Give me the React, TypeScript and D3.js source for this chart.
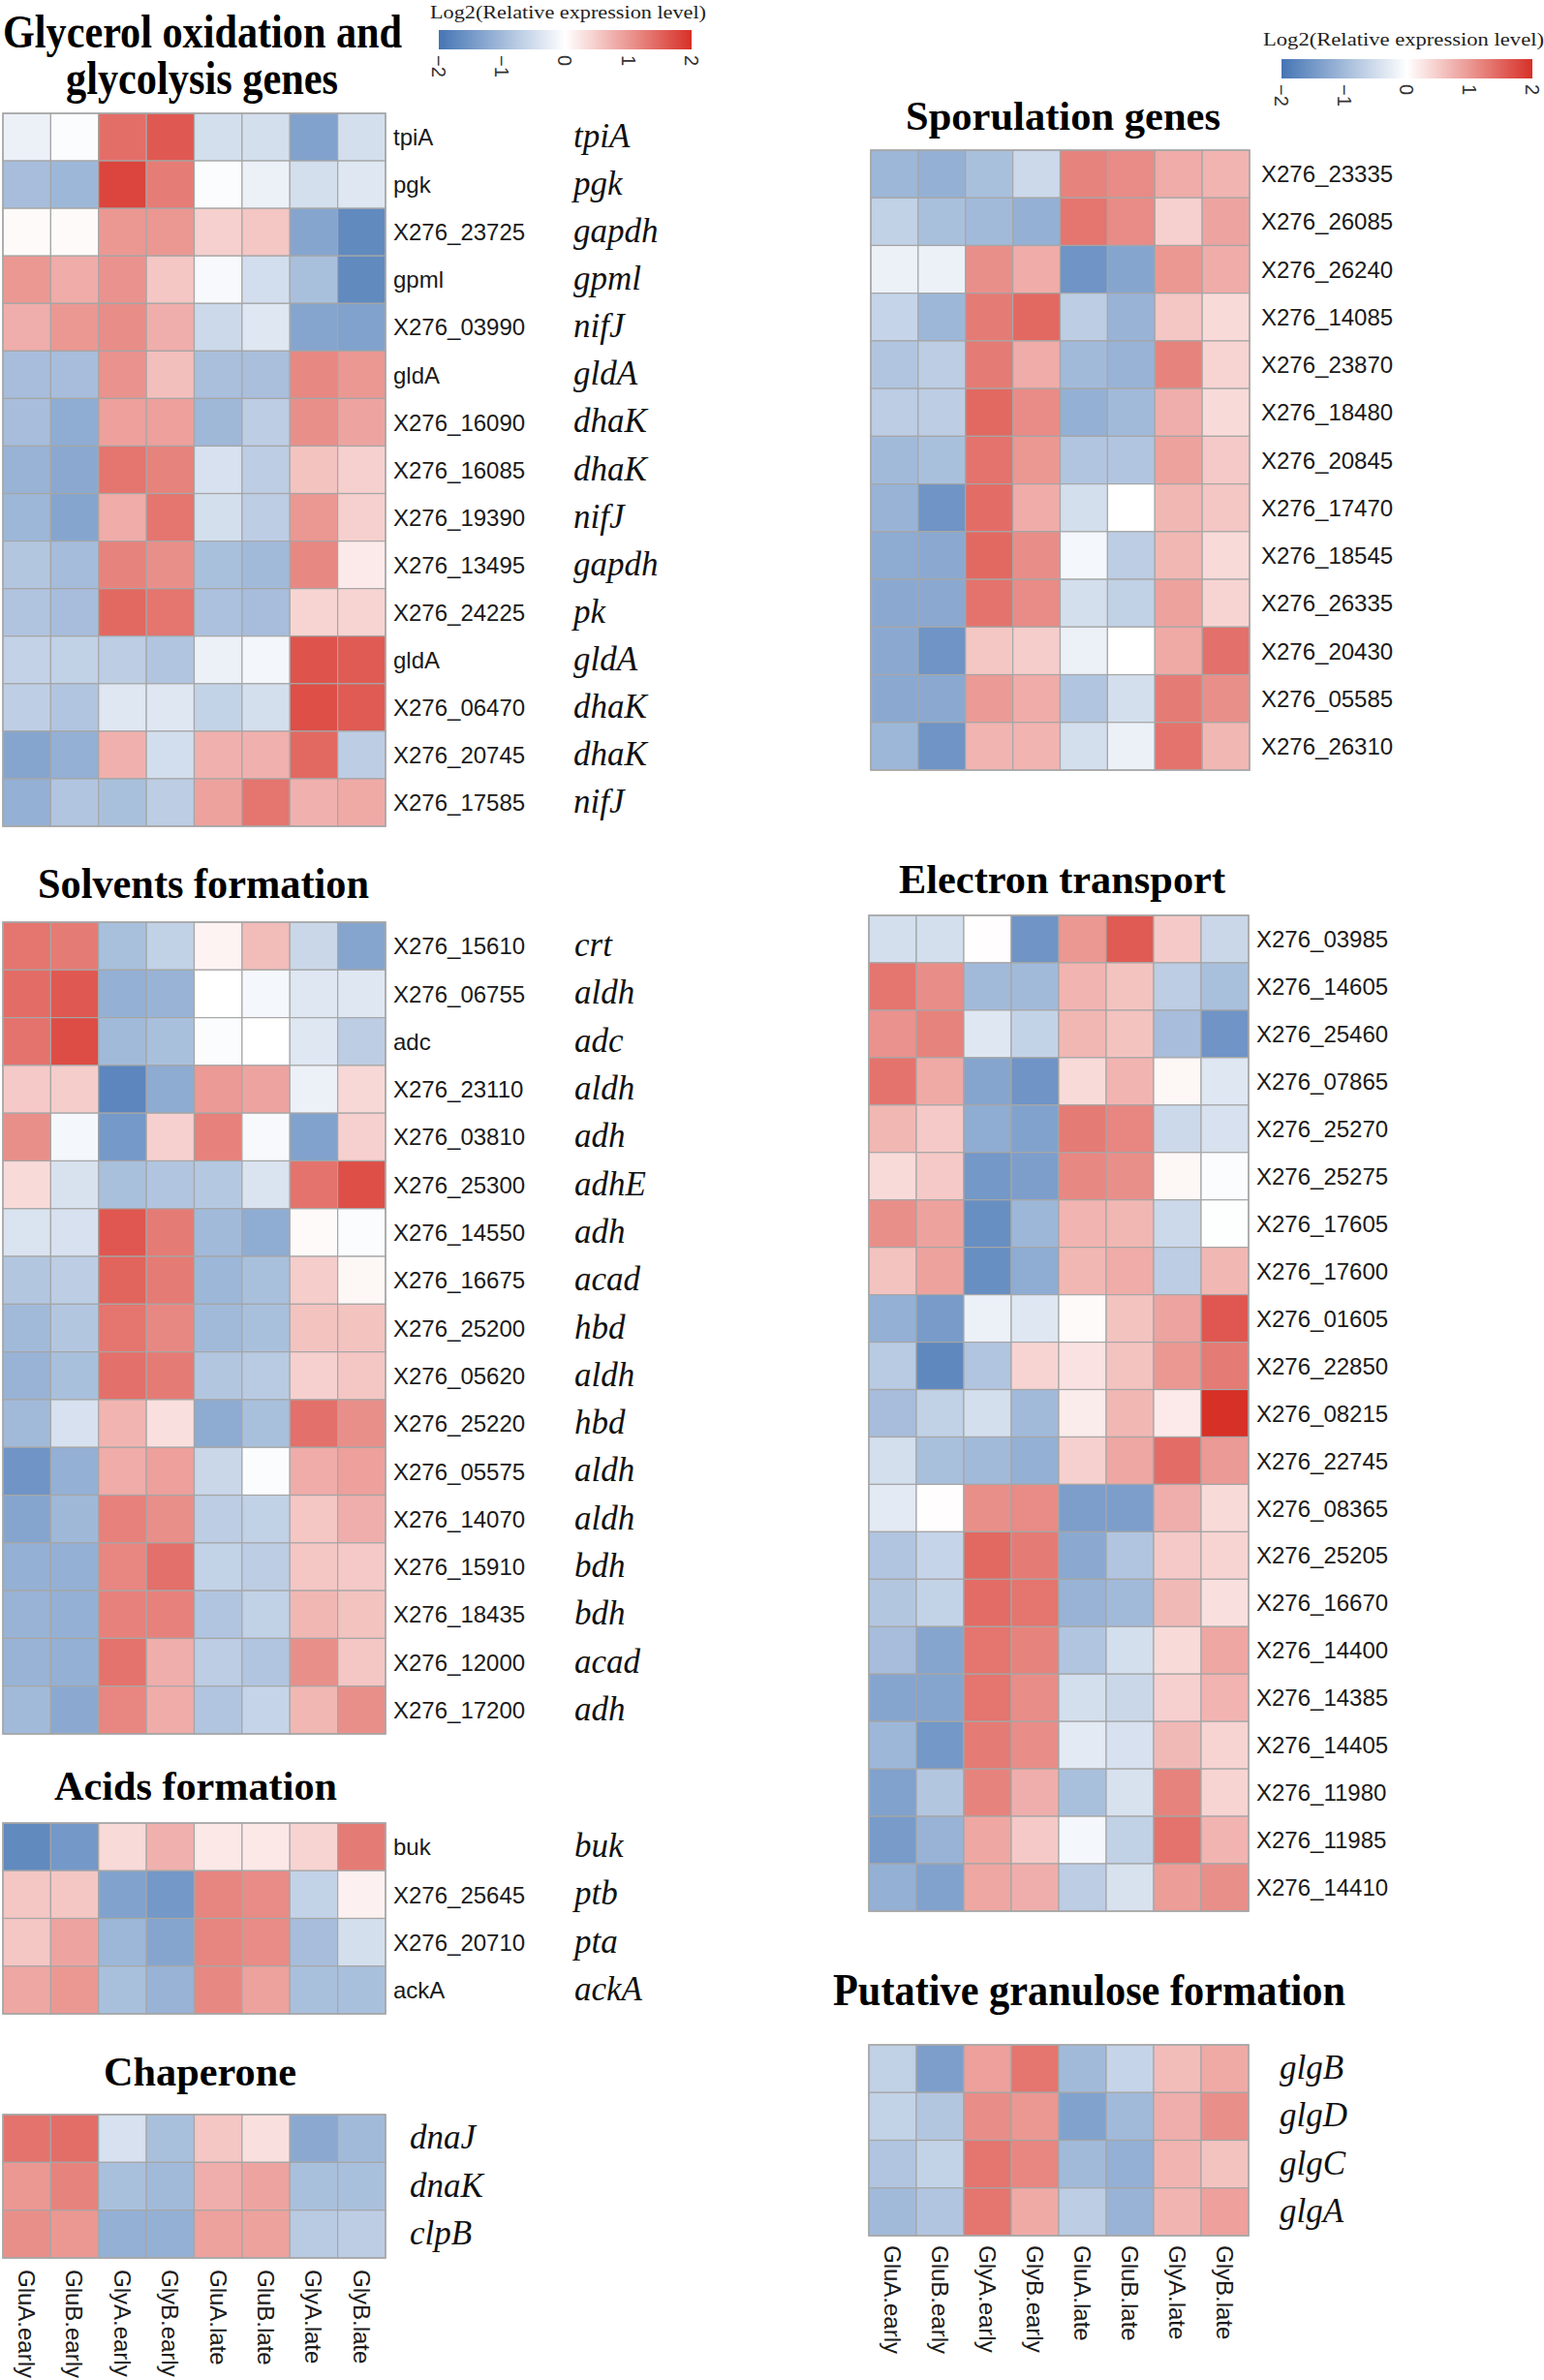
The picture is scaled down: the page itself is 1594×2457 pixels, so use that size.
import React from "react";
import * as d3 from "d3";

const samples = ["GluA.early","GluB.early","GlyA.early","GlyB.early","GluA.late","GluB.late","GlyA.late","GlyB.late"];
const legendTicks = [-2, -1, 0, 1, 2];

const glycerolIds = ["tpiA","pgk","X276_23725","gpml","X276_03990","gldA","X276_16090","X276_16085","X276_19390","X276_13495","X276_24225","gldA","X276_06470","X276_20745","X276_17585"];
const glycerolGenes = ["tpiA","pgk","gapdh","gpml","nifJ","gldA","dhaK","dhaK","nifJ","gapdh","pk","gldA","dhaK","dhaK","nifJ"];
const glycerolValues = [
  [-0.2,-0.05,1.4,1.6,-0.47,-0.47,-1.35,-0.47],
  [-0.95,-1.05,1.8,1.27,-0.05,-0.2,-0.47,-0.35],
  [0.05,0.05,1.0,1.0,0.45,0.55,-1.3,-1.7],
  [1.0,0.8,1.05,0.55,-0.08,-0.48,-0.92,-1.7],
  [0.78,1.0,1.1,0.78,-0.55,-0.35,-1.3,-1.35],
  [-0.95,-0.95,1.05,0.62,-0.93,-0.93,1.15,1.0],
  [-0.95,-1.2,0.92,0.92,-1.03,-0.72,1.08,0.88],
  [-1.1,-1.25,1.33,1.2,-0.43,-0.72,0.58,0.45],
  [-1.05,-1.3,0.8,1.33,-0.47,-0.72,1.0,0.45],
  [-0.82,-0.97,1.2,1.08,-0.92,-1.0,1.15,0.2],
  [-0.85,-0.95,1.45,1.33,-0.9,-0.95,0.42,0.42],
  [-0.65,-0.67,-0.72,-0.84,-0.2,-0.13,1.65,1.58],
  [-0.7,-0.84,-0.35,-0.35,-0.64,-0.47,1.7,1.58],
  [-1.3,-1.15,0.75,-0.48,0.75,0.75,1.45,-0.72],
  [-1.15,-0.84,-0.92,-0.72,0.9,1.33,0.75,0.82],
];

const solventIds = ["X276_15610","X276_06755","adc","X276_23110","X276_03810","X276_25300","X276_14550","X276_16675","X276_25200","X276_05620","X276_25220","X276_05575","X276_14070","X276_15910","X276_18435","X276_12000","X276_17200"];
const solventGenes = ["crt","aldh","adc","aldh","adh","adhE","adh","acad","hbd","aldh","hbd","aldh","aldh","bdh","bdh","acad","adh"];
const solventValues = [
  [1.33,1.28,-0.92,-0.67,0.12,0.65,-0.58,-1.3],
  [1.42,1.6,-1.15,-1.1,0.0,-0.12,-0.35,-0.35],
  [1.35,1.72,-1.0,-0.92,-0.05,0.0,-0.35,-0.72],
  [0.52,0.48,-1.75,-1.22,0.98,0.88,-0.2,0.38],
  [1.08,-0.12,-1.48,0.45,1.22,-0.08,-1.35,0.45],
  [0.35,-0.42,-0.92,-0.84,-0.8,-0.4,1.35,1.7],
  [-0.4,-0.43,1.62,1.28,-1.0,-1.2,0.05,-0.05],
  [-0.82,-0.72,1.5,1.28,-1.05,-0.92,0.48,0.08],
  [-1.0,-0.82,1.33,1.15,-1.0,-0.92,0.58,0.58],
  [-1.1,-0.92,1.38,1.28,-0.82,-0.76,0.45,0.55],
  [-1.0,-0.43,0.72,0.3,-1.22,-0.92,1.38,1.08],
  [-1.55,-1.15,0.8,0.92,-0.58,-0.05,0.8,0.92],
  [-1.3,-1.03,1.22,1.08,-0.72,-0.67,0.55,0.78],
  [-1.15,-1.15,1.17,1.38,-0.64,-0.72,0.55,0.52],
  [-1.1,-1.15,1.22,1.22,-0.84,-0.67,0.7,0.58],
  [-1.1,-1.15,1.35,0.78,-0.72,-0.84,1.08,0.55],
  [-1.0,-1.25,1.17,0.8,-0.84,-0.62,0.7,1.08],
];

const acidIds = ["buk","X276_25645","X276_20710","ackA"];
const acidGenes = ["buk","ptb","pta","ackA"];
const acidValues = [
  [-1.7,-1.5,0.36,0.75,0.22,0.22,0.42,1.28],
  [0.55,0.55,-1.35,-1.5,1.18,1.12,-0.64,0.14],
  [0.55,0.88,-1.05,-1.3,1.18,1.12,-0.95,-0.47],
  [0.85,1.0,-0.92,-1.1,1.15,0.9,-0.92,-0.92],
];

const chaperoneGenes = ["dnaJ","dnaK","clpB"];
const chaperoneValues = [
  [1.35,1.4,-0.43,-0.92,0.55,0.3,-1.25,-1.0],
  [1.0,1.2,-0.92,-1.0,0.78,0.88,-0.92,-0.92],
  [1.08,1.0,-1.15,-1.15,0.9,0.9,-0.76,-0.72],
];

const sporulationIds = ["X276_23335","X276_26085","X276_26240","X276_14085","X276_23870","X276_18480","X276_20845","X276_17470","X276_18545","X276_26335","X276_20430","X276_05585","X276_26310"];
const sporulationValues = [
  [-1.05,-1.15,-0.92,-0.55,1.2,1.12,0.8,0.72],
  [-0.67,-0.92,-1.0,-1.15,1.33,1.12,0.45,0.88],
  [-0.2,-0.2,1.08,0.8,-1.55,-1.3,1.0,0.8],
  [-0.62,-1.05,1.28,1.45,-0.72,-1.1,0.55,0.35],
  [-0.84,-0.72,1.28,0.8,-1.0,-1.1,1.2,0.42],
  [-0.72,-0.72,1.45,1.12,-1.15,-1.0,0.78,0.35],
  [-1.0,-0.92,1.35,1.0,-0.84,-0.84,0.9,0.52],
  [-1.1,-1.55,1.42,0.8,-0.47,0.0,0.7,0.55],
  [-1.22,-1.25,1.45,1.1,-0.12,-0.72,0.7,0.35],
  [-1.25,-1.25,1.35,1.12,-0.47,-0.67,0.9,0.42],
  [-1.25,-1.55,0.55,0.48,-0.2,0.0,0.82,1.38],
  [-1.25,-1.25,0.98,0.8,-0.84,-0.47,1.28,1.08],
  [-1.05,-1.55,0.72,0.72,-0.47,-0.2,1.35,0.7],
];

const electronIds = ["X276_03985","X276_14605","X276_25460","X276_07865","X276_25270","X276_25275","X276_17605","X276_17600","X276_01605","X276_22850","X276_08215","X276_22745","X276_08365","X276_25205","X276_16670","X276_14400","X276_14385","X276_14405","X276_11980","X276_11985","X276_14410"];
const electronValues = [
  [-0.47,-0.47,0.02,-1.55,1.0,1.58,0.52,-0.58],
  [1.33,1.1,-1.0,-1.0,0.72,0.58,-0.72,-0.92],
  [1.05,1.2,-0.35,-0.64,0.7,0.58,-0.95,-1.55],
  [1.35,0.82,-1.3,-1.55,0.35,0.72,0.08,-0.35],
  [0.7,0.52,-1.2,-1.35,1.28,1.17,-0.55,-0.43],
  [0.35,0.52,-1.5,-1.4,1.15,1.08,0.08,-0.05],
  [1.08,0.9,-1.62,-1.05,0.72,0.7,-0.55,-0.02],
  [0.58,0.9,-1.62,-1.2,0.7,0.8,-0.72,0.7],
  [-1.15,-1.45,-0.2,-0.35,0.05,0.58,0.88,1.62],
  [-0.76,-1.72,-0.84,0.42,0.28,0.58,1.0,1.28],
  [-0.95,-0.67,-0.47,-1.0,0.18,0.7,0.2,2.0],
  [-0.47,-0.92,-1.0,-1.15,0.45,0.85,1.42,0.98],
  [-0.3,0.02,1.08,1.12,-1.4,-1.4,0.78,0.36],
  [-0.84,-0.62,1.45,1.28,-1.25,-0.84,0.52,0.42],
  [-0.82,-0.64,1.42,1.33,-1.1,-1.0,0.68,0.3],
  [-0.95,-1.3,1.33,1.2,-0.84,-0.47,0.35,0.85],
  [-1.3,-1.3,1.33,1.1,-0.47,-0.58,0.45,0.72],
  [-1.05,-1.5,1.28,1.1,-0.3,-0.43,0.68,0.42],
  [-1.35,-0.82,1.2,0.78,-0.92,-0.42,1.2,0.42],
  [-1.45,-1.1,0.85,0.52,-0.12,-0.67,1.35,0.72],
  [-1.15,-1.35,0.85,0.78,-0.72,-0.42,0.95,1.08],
];

const granuloseGenes = ["glgB","glgD","glgC","glgA"];
const granuloseValues = [
  [-0.67,-1.4,0.92,1.33,-1.0,-0.62,0.65,0.82],
  [-0.64,-0.82,1.1,1.0,-1.35,-1.0,0.78,1.08],
  [-0.84,-0.64,1.33,1.17,-1.0,-1.15,0.72,0.58],
  [-1.0,-0.84,1.33,0.82,-0.72,-1.1,0.72,0.92],
];

const color = d3
  .scaleLinear<string>()
  .domain([-2, 0, 2])
  .range(["#4575b4", "#ffffff", "#d73027"])
  .interpolate(d3.interpolateRgb)
  .clamp(true);

const SANS = "'Liberation Sans', Arial, sans-serif";
const SERIF = "'Liberation Serif', 'Times New Roman', serif";

type HeatProps = {
  x: number; y: number; w: number; h: number;
  values: number[][];
  ids?: string[]; idX?: number;
  genes?: string[]; geneX?: number;
  colLabelY?: number;
};

function Heatmap(p: HeatProps) {
  const rows = d3.range(p.values.length);
  const xs = d3.scaleBand<number>().domain(d3.range(samples.length)).range([p.x, p.x + p.w]);
  const ys = d3.scaleBand<number>().domain(rows).range([p.y, p.y + p.h]);
  return (
    <g>
      {p.values.map((row, i) =>
        row.map((v, j) => (
          <rect key={`${i}-${j}`} x={xs(j)} y={ys(i)} width={xs.bandwidth()} height={ys.bandwidth()}
            fill={color(v)} stroke="#a6a6a6" strokeWidth={1.2} />
        ))
      )}
      <rect x={p.x} y={p.y} width={p.w} height={p.h} fill="none" stroke="#a6a6a6" strokeWidth={1.5} />
      {p.ids && p.ids.map((t, i) => (
        <text key={"id" + i} x={p.idX} y={(ys(i) as number) + ys.bandwidth() / 2} dy="0.36em"
          fontFamily={SANS} fontSize={24} fill="#1a1a1a">{t}</text>
      ))}
      {p.genes && p.genes.map((t, i) => (
        <text key={"g" + i} x={p.geneX} y={(ys(i) as number) + ys.bandwidth() / 2} dy="0.3em"
          fontFamily={SERIF} fontStyle="italic" fontSize={35} fill="#111">{t}</text>
      ))}
      {p.colLabelY !== undefined && samples.map((s, j) => (
        <text key={"c" + j} transform={`translate(${(xs(j) as number) + xs.bandwidth() / 2},${p.colLabelY}) rotate(90)`}
          dy="0.36em" fontFamily={SANS} fontSize={24} fill="#1a1a1a">{s}</text>
      ))}
    </g>
  );
}

function Legend({ x, y, w, h, titleX, titleY, titleLen, id }: { x: number; y: number; w: number; h: number; titleX: number; titleY: number; titleLen: number; id: string }) {
  const s = d3.scaleLinear().domain([-2, 2]).range([x, x + w]);
  const stops = d3.range(0, 1.0001, 0.05);
  return (
    <g>
      <defs>
        <linearGradient id={id} x1="0" x2="1" y1="0" y2="0">
          {stops.map((t, i) => (
            <stop key={i} offset={t} stopColor={color(-2 + 4 * t)} />
          ))}
        </linearGradient>
      </defs>
      <text x={titleX} y={titleY} fontFamily={SERIF} fontSize={19} textLength={titleLen} lengthAdjust="spacingAndGlyphs" fill="#222">
        Log2(Relative  expression level)
      </text>
      <rect x={x} y={y} width={w} height={h} fill={`url(#${id})`} />
      {legendTicks.map((t) => (
        <text key={t} transform={`translate(${s(t)},${y + h + 6}) rotate(90)`} dy="0.36em"
          fontFamily={SANS} fontSize={20} fill="#333">{t < 0 ? `\u2212${-t}` : `${t}`}</text>
      ))}
    </g>
  );
}

function Title({ x, y, len, text, size = 44 }: { x: number; y: number; len: number; text: string; size?: number }) {
  return (
    <text x={x} y={y} fontFamily={SERIF} fontWeight="bold" fontSize={size} textLength={len}
      lengthAdjust="spacingAndGlyphs" fill="#000">{text}</text>
  );
}

export default function App() {
  return (
    <svg width={1594} height={2457} style={{ position: "absolute", left: 0, top: 0, display: "block", background: "#fff" }}>
      <rect width={1594} height={2457} fill="#fff" />
      <Title x={3} y={49} len={412} text="Glycerol oxidation and" size={48} />
      <Title x={68} y={97} len={281} text="glycolysis genes" size={48} />
      <Legend id="lg1" x={453} y={31} w={261} h={20} titleX={444} titleY={19} titleLen={285} />
      <Heatmap x={3} y={117} w={395} h={736} values={glycerolValues} ids={glycerolIds} idX={406} genes={glycerolGenes} geneX={592} />

      <Title x={39} y={927} len={342} text="Solvents formation" size={45} />
      <Heatmap x={3} y={952} w={395} h={838} values={solventValues} ids={solventIds} idX={406} genes={solventGenes} geneX={593} />

      <Title x={56} y={1858} len={292} text="Acids formation" size={43} />
      <Heatmap x={3} y={1882} w={395} h={197} values={acidValues} ids={acidIds} idX={406} genes={acidGenes} geneX={593} />

      <Title x={107} y={2153} len={199} text="Chaperone" size={43} />
      <Heatmap x={3} y={2183} w={395} h={148} values={chaperoneValues} genes={chaperoneGenes} geneX={423} colLabelY={2343} />

      <Legend id="lg2" x={1323} y={61} w={259} h={20} titleX={1304} titleY={47} titleLen={290} />
      <Title x={935} y={134} len={325} text="Sporulation genes" size={43} />
      <Heatmap x={899} y={155} w={391} h={640} values={sporulationValues} ids={sporulationIds} idX={1302} />

      <Title x={928} y={922} len={337} text="Electron transport" size={43} />
      <Heatmap x={897} y={945} w={392} h={1028} values={electronValues} ids={electronIds} idX={1297} />

      <Title x={860} y={2070} len={529} text="Putative granulose formation" size={46} />
      <Heatmap x={897} y={2111} w={392} h={197} values={granuloseValues} genes={granuloseGenes} geneX={1321} colLabelY={2318} />
    </svg>
  );
}
